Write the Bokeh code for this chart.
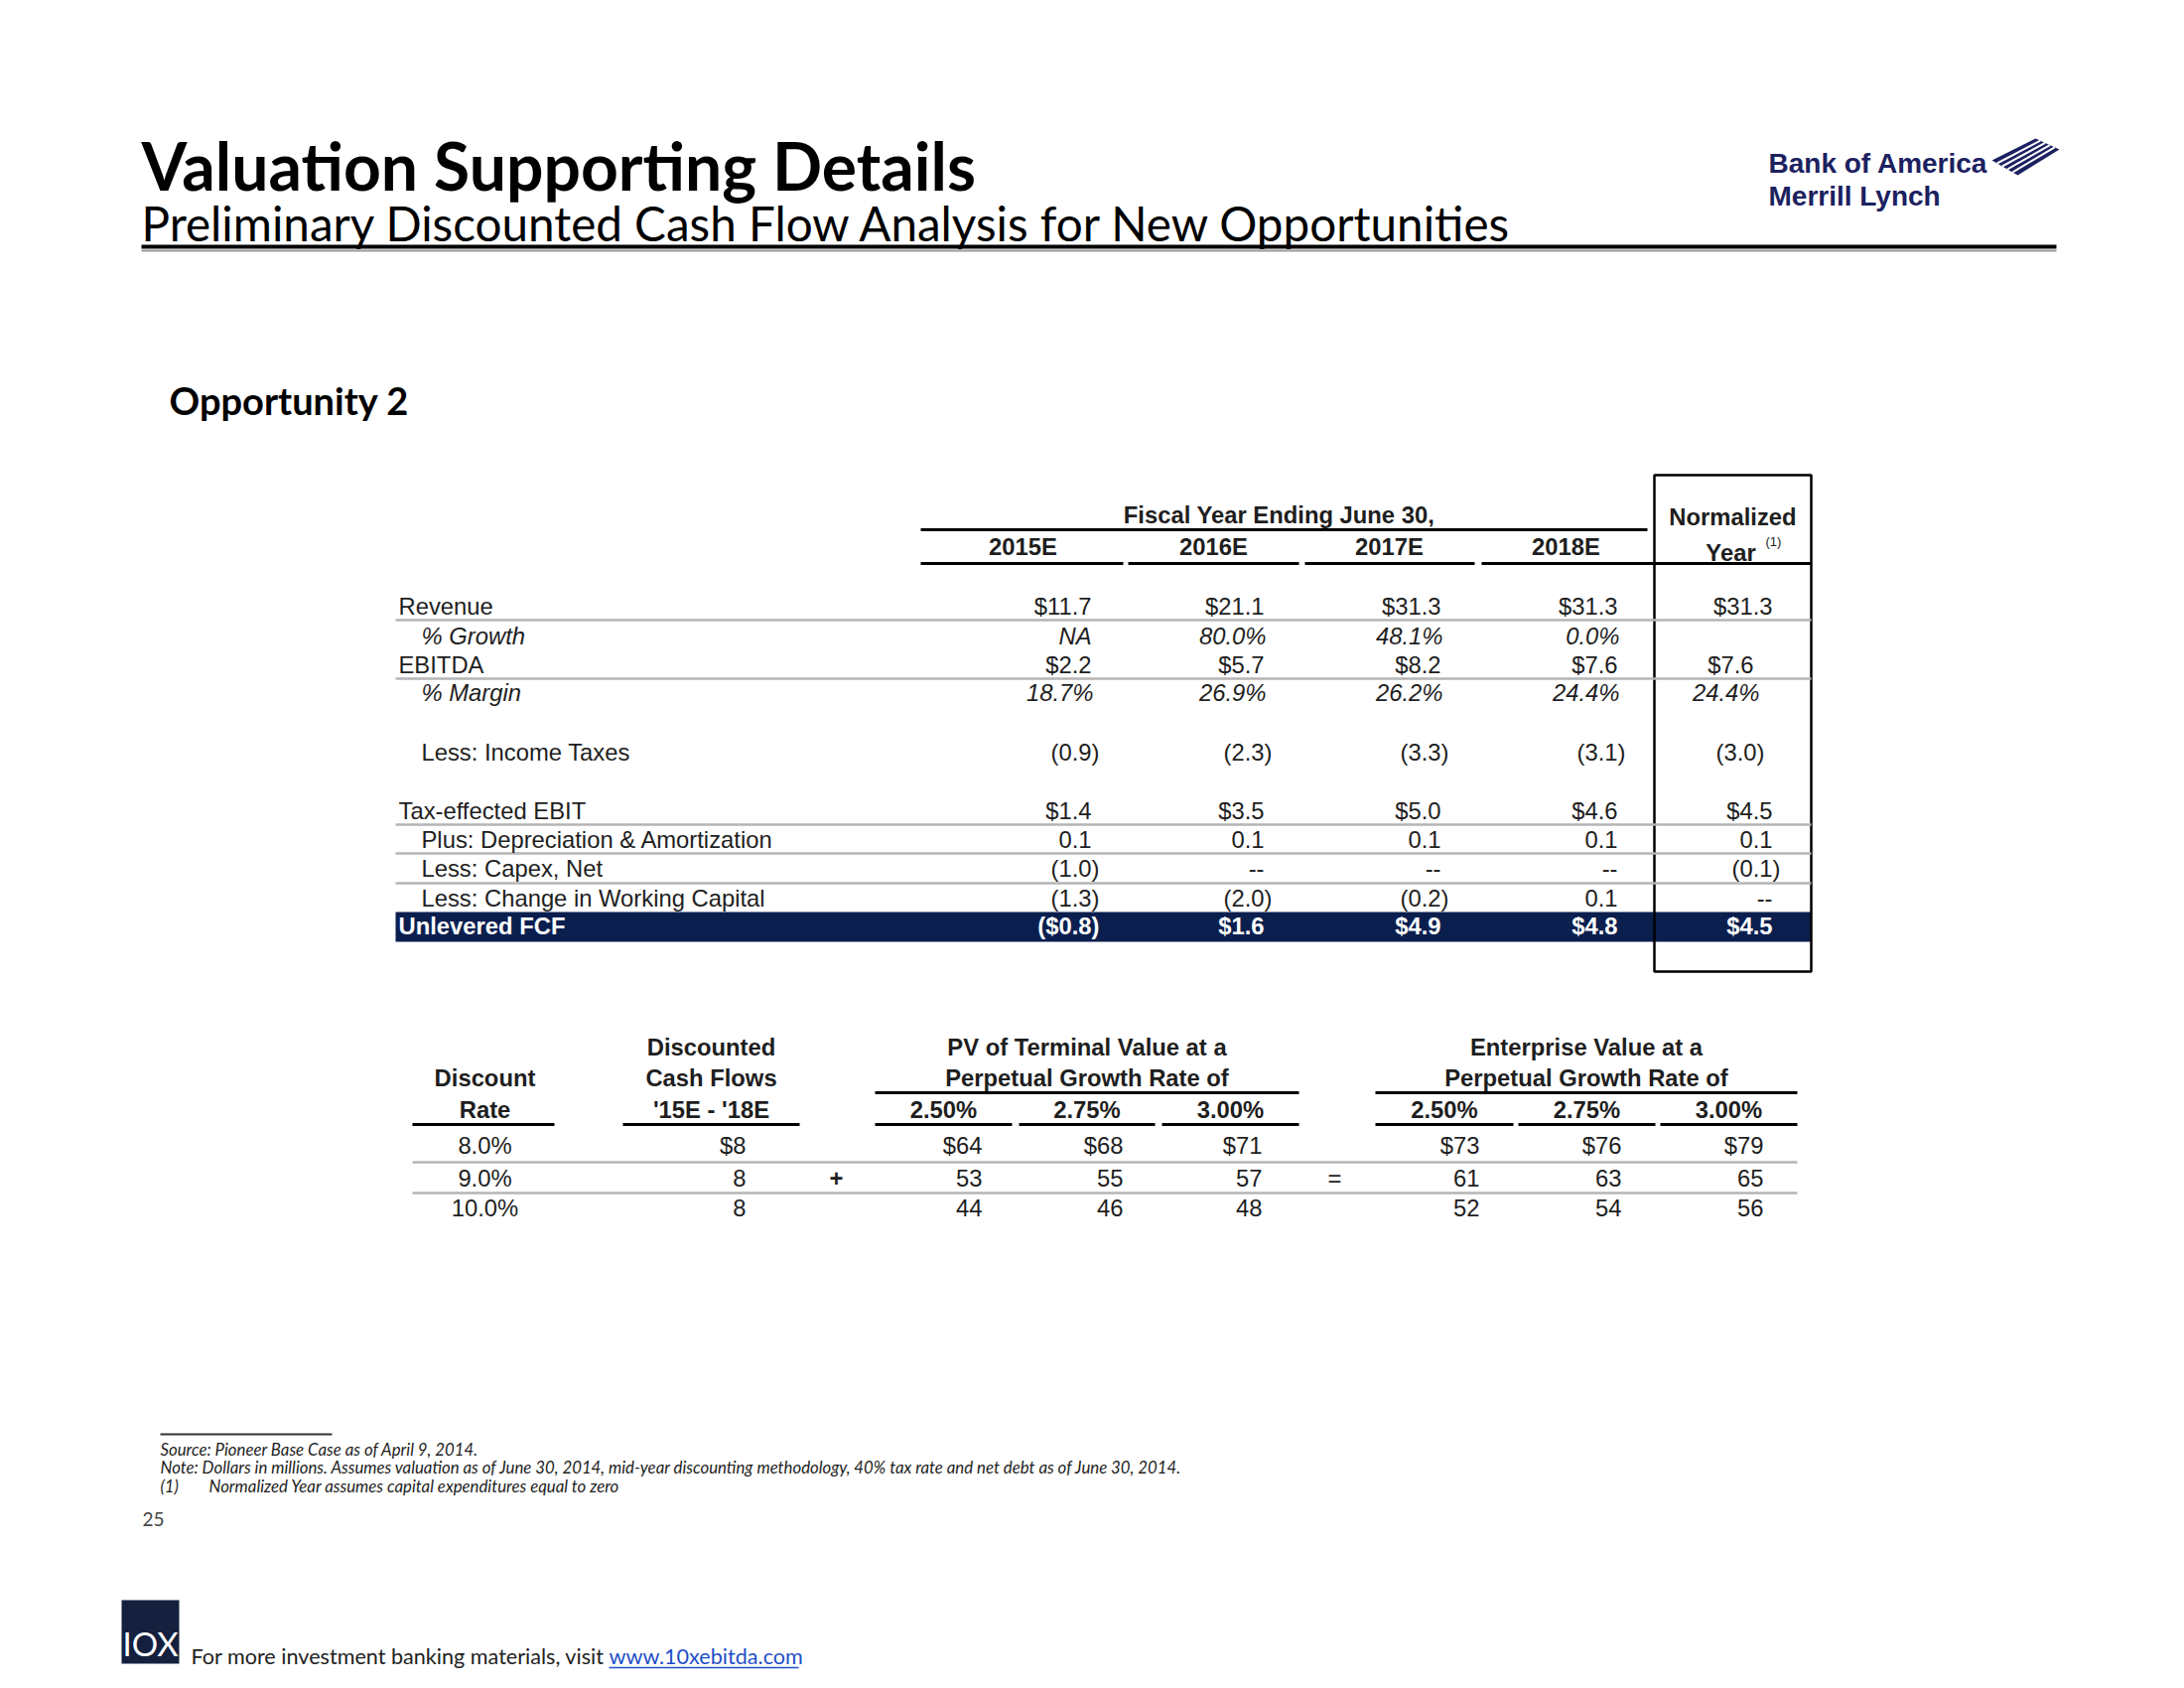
from bokeh.plotting import figure
from bokeh.models import Range1d, ColumnDataSource
from bokeh.embed import file_html
from bokeh.resources import INLINE
from bokeh.core.properties import value

# ---------------- data ----------------
title = "Valuation Supporting Details"
subtitle = "Preliminary Discounted Cash Flow Analysis for New Opportunities"
section = "Opportunity 2"
period_header = "Fiscal Year Ending June 30,"
years = ["2015E", "2016E", "2017E", "2018E"]
normalized_header = ["Normalized", "Year"]

row_labels = ["Revenue", "% Growth", "EBITDA", "% Margin", "Less: Income Taxes",
              "Tax-effected EBIT", "Plus: Depreciation & Amortization", "Less: Capex, Net",
              "Less: Change in Working Capital", "Unlevered FCF"]
# columns: 2015E, 2016E, 2017E, 2018E, Normalized Year
revenue = [11.7, 21.1, 31.3, 31.3, 31.3]
revenue_growth = [None, 80.0, 48.1, 0.0]
ebitda = [2.2, 5.7, 8.2, 7.6, 7.6]
ebitda_margin = [18.7, 26.9, 26.2, 24.4, 24.4]
income_taxes = [-0.9, -2.3, -3.3, -3.1, -3.0]
tax_effected_ebit = [1.4, 3.5, 5.0, 4.6, 4.5]
dep_amort = [0.1, 0.1, 0.1, 0.1, 0.1]
capex_net = [-1.0, 0.0, 0.0, 0.0, -0.1]
change_nwc = [-1.3, -2.0, -0.2, 0.1, 0.0]
unlevered_fcf = [-0.8, 1.6, 4.9, 4.8, 4.5]

discount_rates = [8.0, 9.0, 10.0]
growth_rates = [2.50, 2.75, 3.00]
discounted_cf = [8, 8, 8]
pv_terminal = [[64, 68, 71], [53, 55, 57], [44, 46, 48]]
enterprise_value = [[73, 76, 79], [61, 63, 65], [52, 54, 56]]

dr_header = ["Discount", "Rate"]
dcf_header = ["Discounted", "Cash Flows", "'15E - '18E"]
pv_header = ["PV of Terminal Value at a", "Perpetual Growth Rate of"]
ev_header = ["Enterprise Value at a", "Perpetual Growth Rate of"]

footnotes = ["Source: Pioneer Base Case as of April 9, 2014.",
             "Note: Dollars in millions. Assumes valuation as of June 30, 2014, mid-year discounting methodology, 40% tax rate and net debt as of June 30, 2014.",
             "(1)", "Normalized Year assumes capital expenditures equal to zero"]
page_number = "25"
bank_name = ["Bank of America", "Merrill Lynch"]
footer_text = "For more investment banking materials, visit"
footer_link = "www.10xebitda.com"

# ---------------- figure ----------------
W, H = 2184, 1684
p = figure(width=W, height=H, x_range=Range1d(0, W), y_range=Range1d(H, 0),
           output_backend="svg", toolbar_location=None, min_border=0,
           x_axis_location=None, y_axis_location=None)
p.grid.visible = False
p.outline_line_color = None
p.background_fill_color = "white"
p.border_fill_color = "white"

TXT = "#1e1e1e"
ARIAL = "Liberation Sans"
CAL = "Lato"
FS = "23.8px"
NAVY = "#0b1f4f"
GREY = "#b5b5b5"

texts = {}


def T(x, y, s, size=FS, font=ARIAL, style="normal", align="left", color=TXT, baseline="middle"):
    key = (font, size, style, align, color, baseline)
    d = texts.setdefault(key, {"x": [], "y": [], "text": []})
    d["x"].append(x)
    d["y"].append(y)
    d["text"].append(s)


segs = {}


def L(x0, x1, y0, y1, color="black", width=3):
    d = segs.setdefault((color, width), {"x0": [], "x1": [], "y0": [], "y1": []})
    d["x0"].append(x0); d["x1"].append(x1); d["y0"].append(y0); d["y1"].append(y1)


# ---- header ----
T(142, 166, title, size="66px", font=CAL, style="bold", color="black")
T(142, 224, subtitle, size="47.6px", font=CAL, color="black")
L(142, 2071, 248, 248, "black", 4)
L(142, 2071, 252, 252, "#9a9a9a", 2)
T(170, 402, section, size="38px", font=CAL, style="bold", color="black")

LOGO = "#1c2160"
T(1781, 164, bank_name[0], size="28px", font=ARIAL, style="bold", color=LOGO)
T(1781, 197, bank_name[1], size="28px", font=ARIAL, style="bold", color=LOGO)
p.patch(x=[2006, 2050, 2074, 2032], y=[161, 139, 150, 176], fill_color=LOGO, line_color=None)
for t in [0.2, 0.4, 0.6, 0.8]:
    L(2006 + 26 * t, 2050 + 24 * t, 161 + 15 * t, 139 + 11 * t, "white", 2)

# ---- main table ----
col_R = [1099, 1273, 1451, 1629, 1785]
year_centers = [1030, 1222, 1399, 1577]
year_rules = [(927, 1131), (1136, 1308), (1314, 1485), (1492, 1666)]
T(1288, 518, period_header, style="bold", align="center")
L(927, 1659, 533, 533, "black", 3)
for yc, (a, b), yr in zip(year_centers, year_rules, years):
    T(yc, 550, yr, style="bold", align="center")
    L(a, b, 567, 567, "black", 3)
L(1666, 1824, 567, 567, "black", 3)
T(1745, 520, normalized_header[0], style="bold", align="center")
T(1743, 556, normalized_header[1], style="bold", align="center")
T(1778, 545, "(1)", size="13px", align="left")

row_y = [610, 640, 669, 697, 757, 816, 845, 874, 904, 932]
p.quad(left=398, right=1824, bottom=948, top=918, fill_color=NAVY, line_color=None)
for yy in [624, 683, 830, 859, 889]:
    L(398, 1824, yy, yy, GREY, 2.5)
p.quad(left=1666, right=1824, bottom=978, top=478, fill_color=None, line_color="black", line_width=2.5)

rows = [
    (revenue, "dollar", False, False),
    (revenue_growth, "pct", True, True),
    (ebitda, "dollar", False, False),
    (ebitda_margin, "pct", True, True),
    (income_taxes, "num", True, False),
    (tax_effected_ebit, "dollar", False, False),
    (dep_amort, "num", True, False),
    (capex_net, "num", True, False),
    (change_nwc, "num", True, False),
    (unlevered_fcf, "dollar", False, False),
]
norm_dx = {2: -19, 3: -15, 4: -16}


def money(v, dollar):
    if v == 0:
        return "--"
    s = f"{abs(v):.1f}"
    if dollar:
        s = "$" + s
    return f"({s})" if v < 0 else s


for i, (label, (vals, kind, indent, italic)) in enumerate(zip(row_labels, rows)):
    y = row_y[i]
    last = i == len(rows) - 1
    color = "white" if last else TXT
    st = "bold" if last else ("italic" if italic else "normal")
    T(424 if indent else 401, y, label, style=st, color=color)
    for j, v in enumerate(vals):
        if kind == "pct":
            s = "NA" if v is None else f"{v:.1f}%"
        else:
            s = money(v, kind == "dollar")
        x = col_R[j] + (norm_dx.get(i, 0) if j == 4 else 0)
        if s.endswith(")"):
            x += 8
        elif s.endswith("%"):
            x += 2
        T(x, y, s, style=st, align="right", color=color)

# ---- sensitivity tables ----
hy = [1054, 1085, 1117]
T(488, hy[1], dr_header[0], style="bold", align="center")
T(488, hy[2], dr_header[1], style="bold", align="center")
L(415, 558, 1132, 1132)
for k, s in enumerate(dcf_header):
    T(716, hy[k], s, style="bold", align="center")
L(627, 805, 1132, 1132)

pv_rules = [(881, 1019), (1026, 1163), (1170, 1308)]
ev_rules = [(1385, 1524), (1529, 1667), (1672, 1810)]
pv_R = [989, 1131, 1271]
ev_R = [1490, 1633, 1776]
for hdr, rules in [(pv_header, pv_rules), (ev_header, ev_rules)]:
    cx = (rules[0][0] + rules[-1][1]) / 2
    T(cx, hy[0], hdr[0], style="bold", align="center")
    T(cx, hy[1], hdr[1], style="bold", align="center")
    L(rules[0][0], rules[-1][1], 1100, 1100)
    for (a, b), g in zip(rules, growth_rates):
        T((a + b) / 2, hy[2], f"{g:.2f}%", style="bold", align="center")
        L(a, b, 1132, 1132)

dy = [1153, 1186, 1216]
for yy in [1170, 1201]:
    L(415, 1810, yy, yy, GREY, 2.5)
for r in range(3):
    y = dy[r]
    T(488, y, f"{discount_rates[r]:.1f}%", align="center")
    T(751, y, ("$" if r == 0 else "") + f"{discounted_cf[r]}", align="right")
    for c in range(3):
        T(pv_R[c], y, ("$" if r == 0 else "") + f"{pv_terminal[r][c]}", align="right")
        T(ev_R[c], y, ("$" if r == 0 else "") + f"{enterprise_value[r][c]}", align="right")
T(842, dy[1], "+", style="bold", align="center")
T(1344, dy[1], "=", align="center")

# ---- footnotes ----
FN = "16.8px"
L(161, 334, 1444, 1444, "#333333", 2)
T(161, 1459, footnotes[0], size=FN, font=CAL, style="italic")
T(161, 1477, footnotes[1], size=FN, font=CAL, style="italic")
T(161, 1496, footnotes[2], size=FN, font=CAL, style="italic")
T(210, 1496, footnotes[3], size=FN, font=CAL, style="italic")
T(143, 1529, page_number, size="19px", font=CAL, color="#444444")

# ---- bottom banner ----
p.quad(left=122, right=180, bottom=1675, top=1611, fill_color="#14203e", line_color=None)
T(151, 1674, "IOX", size="33px", font=CAL, align="center", baseline="bottom", color="white")
T(192, 1667, footer_text, size="21.6px", font=CAL, color="#222222")
T(613, 1667, footer_link, size="21.6px", font=CAL, color="#1f4fc8")
L(613, 804, 1679, 1679, "#1f4fc8", 1.5)

# ---- draw collected glyphs ----
for (color, width), d in segs.items():
    p.segment(x0="x0", x1="x1", y0="y0", y1="y1", source=ColumnDataSource(d),
              line_color=color, line_width=width)
for (font, size, style, align, color, baseline), d in texts.items():
    p.text(x="x", y="y", text="text", source=ColumnDataSource(d),
           text_font=value(font), text_font_size=value(size), text_font_style=style,
           text_align=align, text_baseline=baseline, text_color=color)

open("out.html", "w").write(file_html(p, INLINE))
